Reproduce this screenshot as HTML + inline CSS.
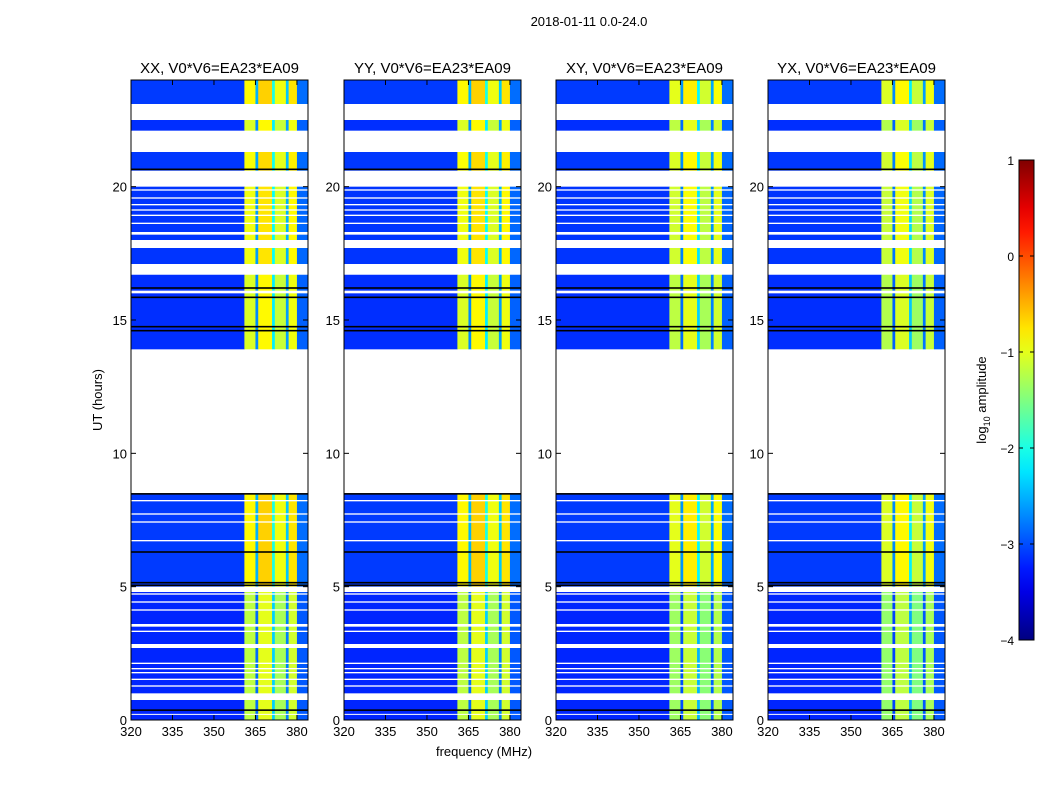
<!DOCTYPE html>
<html><head><meta charset="utf-8"><style>
body{margin:0;background:#fff;width:1050px;height:800px;overflow:hidden}
svg{font-family:"Liberation Sans",sans-serif}
</style></head><body>
<svg id="fig" width="1050" height="800"></svg>
<script>
const panelTitles=["XX, V0*V6=EA23*EA09","YY, V0*V6=EA23*EA09","XY, V0*V6=EA23*EA09","YX, V0*V6=EA23*EA09"];
const panelBandOffset=[0,0,-0.15,-0.2];
const bandStart=[320,361,365,366,371,372,376,377,380];
const bandEnd=[361,365,366,371,372,376,377,380,384];
const bandLevel=[-3.15,-1.05,-2.7,-0.85,-2.2,-1.15,-2.6,-0.95,-2.9];
const blockStart=[0,5.0,13.9,16.7,20.6,22.1,23.1];
const blockEnd=[5.0,8.5,16.7,20.0,21.3,22.5,24];
const blockOffset=[-0.15,0.2,0,0.1,0.15,0,0.2];
const gapStart=[16.7,17.7,18.2,18.6,18.9,19.1,19.3,19.55,19.85,16.0,0.75,1.25,1.5,1.75,1.9,2.1,2.7,3.3,3.5,4.1,4.4,4.7,4.8,6.7,7.4,7.7,8.2,0.2];
const gapEnd=[17.1,18.0,18.3,18.65,18.95,19.15,19.35,19.6,19.9,16.1,1.0,1.3,1.55,1.8,1.95,2.15,2.85,3.35,3.6,4.15,4.45,4.75,5.0,6.75,7.45,7.75,8.25,0.23];
const blackLines=[0.37,5.05,5.15,6.3,8.48,14.6,14.75,15.85,16.2,20.65];
const xTicks=[320,335,350,365,380];
const yTicks=[0,5,10,15,20];
const cbTicks=[1,0,-1,-2,-3,-4];

const NS="http://www.w3.org/2000/svg";
const svg=document.getElementById('fig');
function el(tag,attrs,parent){const e=document.createElementNS(NS,tag);for(const k in attrs)e.setAttribute(k,attrs[k]);(parent||svg).appendChild(e);return e;}
function jet(v){v=Math.max(0,Math.min(1,v));const c=x=>Math.round(255*Math.max(0,Math.min(1,1.5-Math.abs(x))));return `rgb(${c(4*v-3)},${c(4*v-2)},${c(4*v-1)})`;}
function lvlColor(l){return jet((l+4)/5);}
const panelX=[131,344,556,768],PW=177,PT=80,PH=640;
const fx=(f,i)=>panelX[i]+(f-320)/64*PW;
const ty=t=>PT+PH-t/24*PH;

let t=el('text',{x:589,y:26,'text-anchor':'middle','font-size':13});t.textContent="2018-01-11 0.0-24.0";



for(let i=0;i<4;i++){
  const g=el('g',{});
  
  
  for(let b=0;b<blockStart.length;b++){
    for(let k=0;k<bandStart.length;k++){
      const isBand=bandLevel[k]>-2.8;
      const l=bandLevel[k]+blockOffset[b]*(isBand?1:0.3)+(isBand?panelBandOffset[i]:0);
      const r=el('rect',{x:fx(bandStart[k],i),y:ty(blockEnd[b]),width:fx(bandEnd[k],i)-fx(bandStart[k],i)+0.3,height:ty(blockStart[b])-ty(blockEnd[b]),fill:lvlColor(l)},g);
      
      
    }
  }
  for(let j=0;j<gapStart.length;j++){
    const r=el('rect',{x:panelX[i],y:ty(gapEnd[j]),width:PW,height:Math.max(1,ty(gapStart[j])-ty(gapEnd[j])),fill:'#fff'},g);
    
    
  }
  for(let j=0;j<blackLines.length;j++){
    const r=el('rect',{x:panelX[i],y:ty(blackLines[j])-0.8,width:PW,height:1.6,fill:'#000'},g);
    
    
  }
  const fr=el('rect',{x:panelX[i],y:PT,width:PW,height:PH,fill:'none',stroke:'#000','stroke-width':1},g);
  
  
  const tt=el('text',{x:panelX[i]+PW/2,y:73,'text-anchor':'middle','font-size':15},g);tt.textContent=panelTitles[i];
  
  
  xTicks.forEach(v=>{const x=fx(v,i);
    el('line',{x1:x,x2:x,y1:PT+PH,y2:PT+PH-5,stroke:'#000'},g);
    el('line',{x1:x,x2:x,y1:PT,y2:PT+5,stroke:'#000'},g);
    const l=el('text',{x:x,y:736,'text-anchor':'middle','font-size':13},g);l.textContent=v;
    
    });
  yTicks.forEach(v=>{const y=ty(v);
    el('line',{x1:panelX[i],x2:panelX[i]+5,y1:y,y2:y,stroke:'#000'},g);
    el('line',{x1:panelX[i]+PW,x2:panelX[i]+PW-5,y1:y,y2:y,stroke:'#000'},g);
    const l=el('text',{x:panelX[i]-4,y:y+5,'text-anchor':'end','font-size':13},g);l.textContent=v;
    
    });
}
let yl=el('text',{x:102,y:400,'text-anchor':'middle','font-size':13,transform:'rotate(-90 102 400)'});yl.textContent="UT (hours)";


let xl=el('text',{x:484,y:756,'text-anchor':'middle','font-size':13});xl.textContent="frequency (MHz)";



const defs=el('defs',{});const lg=el('linearGradient',{id:'jetg',x1:0,y1:1,x2:0,y2:0},defs);
for(let s=0;s<=20;s++)el('stop',{offset:s/20,'stop-color':jet(s/20)},lg);
const CBX=1019,CBY=160,CBW=15,CBH=480;
const cb=el('rect',{x:CBX,y:CBY,width:CBW,height:CBH,fill:'url(#jetg)',stroke:'#000'});


cbTicks.forEach(v=>{const y=CBY+(1-v)/5*CBH;
  el('line',{x1:CBX,x2:CBX+4,y1:y,y2:y,stroke:'#000'});
  el('line',{x1:CBX+CBW,x2:CBX+CBW-4,y1:y,y2:y,stroke:'#000'});
  const l=el('text',{x:CBX-5,y:y+5,'text-anchor':'end','font-size':12});l.textContent=v<0?'\u2212'+(-v):v;
  
  });
const cl=el('text',{x:986,y:400,'text-anchor':'middle','font-size':13,transform:'rotate(-90 986 400)'});
cl.innerHTML='log<tspan font-size="9" dy="4">10</tspan><tspan dy="-4"> amplitude</tspan>';


</script>
</body></html>
